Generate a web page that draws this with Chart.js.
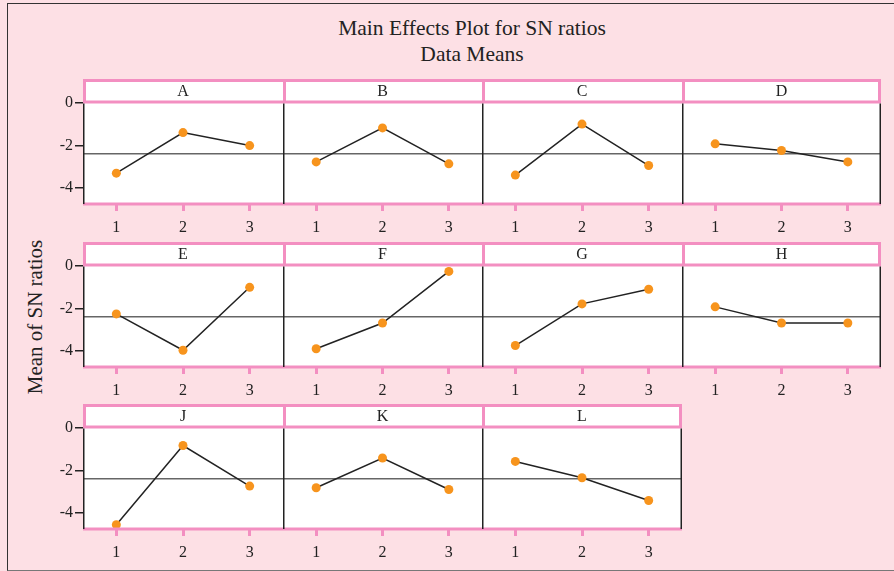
<!DOCTYPE html>
<html>
<head>
<meta charset="utf-8">
<script src="https://cdn.jsdelivr.net/npm/chart.js@4.4.1/dist/chart.umd.min.js"></script>
<style>
  html, body { margin: 0; padding: 0; }
  body { width: 894px; height: 571px; background: #fde0e5; position: relative; overflow: hidden;
         font-family: "Liberation Serif", "DejaVu Serif", serif; color: #222; }
  #frame { position: absolute; left: 7px; top: 3px; width: 1000px; height: 566px;
           border-left: 1.5px solid #333; border-top: 1.5px solid #333; border-bottom: 1.5px solid #777; }
  #title { position: absolute; left: 272px; width: 400px; top: 15px; text-align: center;
           font-size: 21.5px; line-height: 26px; }
  #ylabel { position: absolute; left: 35px; top: 317px; width: 200px; text-align: center;
            font-size: 21px; line-height: 22px; transform: translate(-50%, -50%) rotate(-90deg); white-space: nowrap; }
  .panel { position: absolute; }
  .panel canvas { display: block; }
</style>
</head>
<body>
<div id="frame"></div>
<div id="title">Main Effects Plot for SN ratios<br>Data Means</div>
<div id="ylabel">Mean of SN ratios</div>

<script>
// Main effects for SN ratios, levels 1..3 per factor
const levels = [1, 2, 3];
const factorNames = ['A', 'B', 'C', 'D', 'E', 'F', 'G', 'H', 'J', 'K', 'L'];
const snA = [-3.30, -1.39, -2.00];
const snB = [-2.77, -1.17, -2.86];
const snC = [-3.39, -0.99, -2.94];
const snD = [-1.92, -2.23, -2.77];
const snE = [-2.25, -3.96, -1.00];
const snF = [-3.89, -2.68, -0.25];
const snG = [-3.74, -1.78, -1.09];
const snH = [-1.92, -2.68, -2.68];
const snJ = [-4.55, -0.82, -2.73];
const snK = [-2.81, -1.41, -2.89];
const snL = [-1.57, -2.34, -3.41];
const grandMean = -2.38;
const yTickValues = [0, -2, -4];

const series = [snA, snB, snC, snD, snE, snF, snG, snH, snJ, snK, snL];

// layout
const PINK = '#f38fc1';
const ORANGE = '#f7941d';
const INK = '#222';
const colLeft0 = 83, colW = 199.5;
const rowTops = [79, 242, 404];
const headerH = 23, plotH = 102, xAxisH = 34, yAxisW = 50;

// header box, pink bottom axis and black side lines (shared edges drawn once)
const framePlugin = {
  id: 'frame',
  beforeDraw(chart) {
    const { ctx, chartArea: a } = chart;
    ctx.save();
    ctx.fillStyle = '#fff';
    ctx.fillRect(a.left, a.top - headerH, a.right - a.left, a.bottom - a.top + headerH);
    ctx.restore();
  },
  afterDraw(chart, args, opts) {
    const { ctx, chartArea: a } = chart;
    const hTop = a.top - headerH;
    ctx.save();
    ctx.strokeStyle = PINK;
    ctx.lineWidth = 3;
    ctx.beginPath();
    ctx.moveTo(a.left, hTop + 1.5);
    ctx.lineTo(a.right, hTop + 1.5);
    ctx.moveTo(a.left, a.top);
    ctx.lineTo(a.right, a.top);
    ctx.moveTo(a.left + 1.5, hTop);
    ctx.lineTo(a.left + 1.5, a.top);
    if (opts.last) {
      ctx.moveTo(a.right - 1.5, hTop);
      ctx.lineTo(a.right - 1.5, a.top);
    }
    ctx.moveTo(a.left, a.bottom);
    ctx.lineTo(a.right, a.bottom);
    ctx.stroke();

    ctx.strokeStyle = INK;
    ctx.lineWidth = 1.5;
    ctx.beginPath();
    ctx.moveTo(a.left + 0.75, a.top + 1.5);
    ctx.lineTo(a.left + 0.75, a.bottom);
    if (opts.last) {
      ctx.moveTo(a.right - 0.75, a.top + 1.5);
      ctx.lineTo(a.right - 0.75, a.bottom);
    }
    ctx.stroke();
    ctx.restore();
  }
};

factorNames.forEach((name, i) => {
  const row = Math.floor(i / 4), col = i % 4;
  const first = col === 0;
  const last = col === 3 || i === factorNames.length - 1;
  const left = Math.round(colLeft0 + col * colW);
  const right = Math.round(colLeft0 + (col + 1) * colW);
  const w = right - left + (first ? yAxisW : 0);
  const h = headerH + plotH + xAxisH;

  const div = document.createElement('div');
  div.className = 'panel';
  div.style.left = (left - (first ? yAxisW : 0)) + 'px';
  div.style.top = rowTops[row] + 'px';
  const canvas = document.createElement('canvas');
  canvas.width = w;
  canvas.height = h;
  canvas.style.width = w + 'px';
  canvas.style.height = h + 'px';
  div.appendChild(canvas);
  document.body.appendChild(div);

  const vals = series[i];
  new Chart(canvas, {
    type: 'line',
    data: {
      datasets: [
        {
          data: levels.map((x, k) => ({ x, y: vals[k] })),
          borderColor: INK,
          borderWidth: 1.5,
          pointRadius: 4.5,
          pointBorderWidth: 0,
          pointBackgroundColor: ORANGE,
          clip: false,
          order: 0
        },
        {
          data: [{ x: 0.5, y: grandMean }, { x: 3.5, y: grandMean }],
          borderColor: '#666',
          borderWidth: 1.5,
          pointRadius: 0,
          order: 1
        }
      ]
    },
    options: {
      responsive: false,
      animation: false,
      devicePixelRatio: 1,
      layout: { padding: 0, autoPadding: false },
      plugins: {
        frame: { last },
        legend: { display: false },
        tooltip: { enabled: false },
        title: {
          display: true,
          text: name,
          fullSize: false,
          color: INK,
          font: { family: '"Liberation Serif", serif', size: 16, weight: 'normal', lineHeight: 1 },
          padding: { top: 5, bottom: headerH - 21 }
        }
      },
      scales: {
        x: {
          type: 'linear',
          min: 0.5,
          max: 3.5,
          afterBuildTicks: s => { s.ticks = levels.map(v => ({ value: v })); },
          afterFit: s => { s.height = xAxisH; s.paddingLeft = 0; s.paddingRight = 0; },
          grid: { display: true, drawOnChartArea: false, drawTicks: true, tickLength: 7, color: PINK, lineWidth: 3 },
          border: { display: false },
          ticks: { color: INK, padding: 7, maxRotation: 0, font: { family: '"Liberation Serif", serif', size: 16 } }
        },
        y: {
          display: first,
          min: -4.75,
          max: 0.05,
          afterBuildTicks: s => { s.ticks = yTickValues.map(v => ({ value: v })); },
          afterFit: s => { if (first) s.width = yAxisW; s.paddingTop = 0; s.paddingBottom = 0; },
          grid: { display: true, drawOnChartArea: false, drawTicks: true, tickLength: 8, color: INK, lineWidth: 1.5 },
          border: { display: false },
          ticks: { color: INK, padding: 2, font: { family: '"Liberation Serif", serif', size: 16 } }
        }
      }
    },
    plugins: [framePlugin]
  });
});
</script>
</body>
</html>
